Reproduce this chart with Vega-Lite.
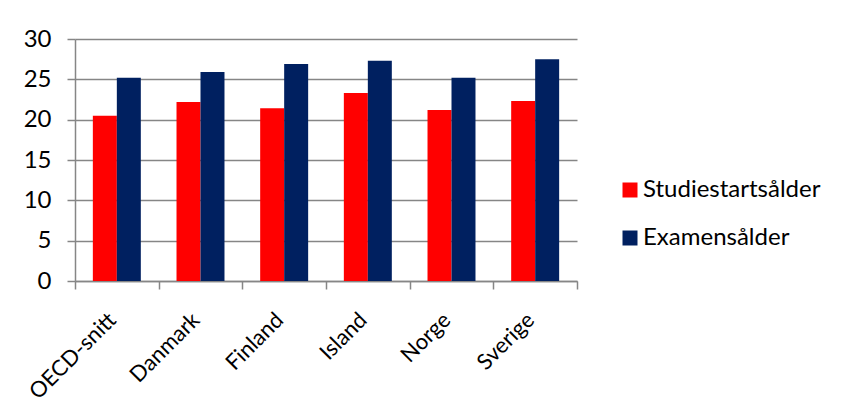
{
  "$schema": "https://vega.github.io/schema/vega-lite/v6.json",
  "width": 502,
  "height": 242,
  "autosize": {"type": "none"},
  "padding": {"left": 75, "top": 39, "right": 274, "bottom": 134},
  "background": "white",
  "config": {
    "font": "Lato",
    "view": {"stroke": null},
    "axis": {
      "labelFont": "Lato",
      "labelFontSize": 24,
      "labelColor": "#000000",
      "domainColor": "#868686",
      "tickColor": "#868686",
      "gridColor": "#868686",
      "domainWidth": 1.5,
      "tickWidth": 1.5,
      "gridWidth": 1.5,
      "title": null
    },
    "legend": {
      "labelFont": "Lato",
      "labelFontSize": 24,
      "labelColor": "#000000",
      "labelLimit": 0
    }
  },
  "data": {
    "values": [
      {"land": "OECD-snitt", "serie": "Studiestartsålder", "alder": 20.5},
      {"land": "OECD-snitt", "serie": "Examensålder", "alder": 25.2},
      {"land": "Danmark", "serie": "Studiestartsålder", "alder": 22.2},
      {"land": "Danmark", "serie": "Examensålder", "alder": 25.9},
      {"land": "Finland", "serie": "Studiestartsålder", "alder": 21.4},
      {"land": "Finland", "serie": "Examensålder", "alder": 26.9},
      {"land": "Island", "serie": "Studiestartsålder", "alder": 23.3},
      {"land": "Island", "serie": "Examensålder", "alder": 27.3},
      {"land": "Norge", "serie": "Studiestartsålder", "alder": 21.2},
      {"land": "Norge", "serie": "Examensålder", "alder": 25.2},
      {"land": "Sverige", "serie": "Studiestartsålder", "alder": 22.3},
      {"land": "Sverige", "serie": "Examensålder", "alder": 27.5}
    ]
  },
  "mark": {"type": "bar"},
  "encoding": {
    "x": {
      "field": "land",
      "type": "nominal",
      "sort": null,
      "scale": {"paddingInner": 0, "paddingOuter": 0},
      "axis": {
        "labelAngle": -45,
        "labelAlign": "right",
        "labelBaseline": "alphabetic",
        "labelFontSize": 22,
        "tickBand": "extent",
        "tickSize": 8,
        "labelPadding": 32,
        "grid": false
      }
    },
    "xOffset": {
      "field": "serie",
      "type": "nominal",
      "sort": ["Studiestartsålder", "Examensålder"],
      "scale": {"paddingInner": 0, "paddingOuter": 0.744}
    },
    "y": {
      "field": "alder",
      "type": "quantitative",
      "scale": {"domain": [0, 30], "nice": false},
      "axis": {
        "values": [0, 5, 10, 15, 20, 25, 30],
        "tickSize": 8,
        "labelPadding": 16,
        "grid": true
      }
    },
    "color": {
      "field": "serie",
      "type": "nominal",
      "sort": ["Studiestartsålder", "Examensålder"],
      "scale": {"domain": ["Studiestartsålder", "Examensålder"], "range": ["#ff0000", "#002060"]},
      "legend": {
        "title": null,
        "orient": "none",
        "legendX": 543,
        "legendY": 139,
        "symbolType": "square",
        "symbolSize": 225,
        "symbolStrokeWidth": 0,
        "rowPadding": 24,
        "labelOffset": 1
      }
    }
  }
}
